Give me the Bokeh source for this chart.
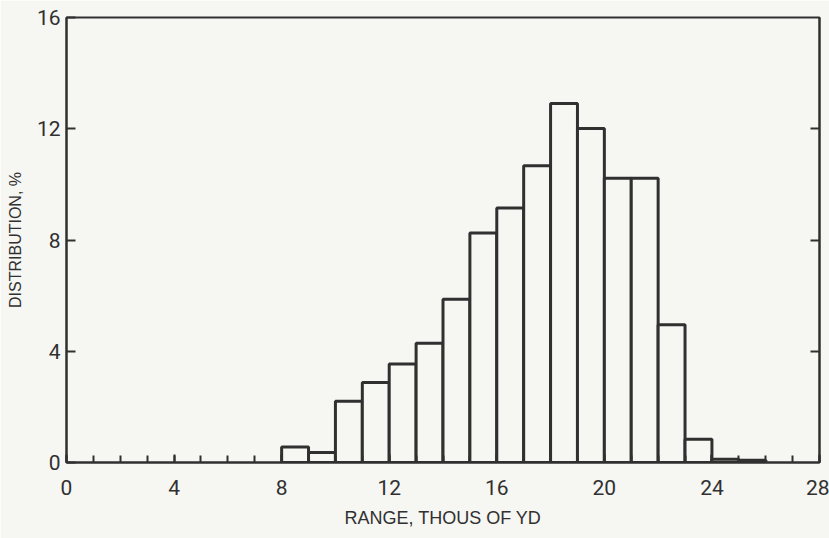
from bokeh.plotting import figure
from bokeh.models import LinearAxis, FixedTicker, Range1d, ColumnDataSource
from bokeh.embed import file_html
from bokeh.resources import INLINE

# histogram bins (thousands of yards) and distribution (%)
bin_left = [8, 9, 10, 11, 12, 13, 14, 15, 16, 17, 18, 19, 20, 21, 22, 23, 24, 25]
bin_right = [9, 10, 11, 12, 13, 14, 15, 16, 17, 18, 19, 20, 21, 22, 23, 24, 25, 26]
distribution = [0.56, 0.36, 2.2, 2.88, 3.54, 4.29, 5.87, 8.25, 9.15, 10.67,
                12.91, 12.01, 10.22, 10.22, 4.95, 0.84, 0.12, 0.08]
x_ticks = [0, 4, 8, 12, 16, 20, 24, 28]
y_ticks = [0, 4, 8, 12, 16]
right_ticks = [4, 8, 12]
x_minor = list(range(0, 29))

INK = "#303030"
PAPER = "#f6f6f3"
FONT = "Roboto"

src = ColumnDataSource(dict(left=bin_left, right=bin_right, top=distribution,
                            bottom=[0] * len(distribution)))

p = figure(width=829, height=538, output_backend="svg", toolbar_location=None,
           x_range=Range1d(0, 28), y_range=Range1d(0, 16),
           min_border_left=66, min_border_right=10, min_border_top=17,
           min_border_bottom=76, x_axis_location=None, y_axis_location=None)
p.background_fill_color = PAPER
p.border_fill_color = PAPER
p.outline_line_color = INK
p.outline_line_width = 2
p.xgrid.visible = False
p.ygrid.visible = False

p.quad(left="left", right="right", top="top", bottom="bottom", source=src,
       fill_color=PAPER, line_color=INK, line_width=3)

xa = LinearAxis(ticker=FixedTicker(ticks=x_ticks, minor_ticks=x_minor),
                axis_label="RANGE, THOUS OF YD")
xa.axis_line_color = INK
xa.axis_line_width = 2
xa.major_tick_in = 8
xa.major_tick_out = 0
xa.minor_tick_in = 7
xa.minor_tick_out = 0
xa.major_tick_line_color = INK
xa.minor_tick_line_color = INK
xa.major_tick_line_width = 2
xa.minor_tick_line_width = 2
xa.major_label_text_font = FONT
xa.major_label_text_font_size = "21px"
xa.major_label_text_color = INK
xa.major_label_standoff = 17
xa.axis_label_text_font = "Liberation Sans"
xa.axis_label_text_font_style = "normal"
xa.axis_label_text_font_size = "18px"
xa.axis_label_text_color = INK
xa.axis_label_standoff = 10
p.add_layout(xa, "below")

ya = LinearAxis(ticker=FixedTicker(ticks=y_ticks, minor_ticks=[]),
                axis_label="DISTRIBUTION, %")
ya.axis_line_color = INK
ya.axis_line_width = 2
ya.major_tick_in = 9
ya.major_tick_out = 0
ya.major_tick_line_color = INK
ya.major_tick_line_width = 2
ya.major_label_text_font = FONT
ya.major_label_text_font_size = "21px"
ya.major_label_text_color = INK
ya.major_label_standoff = 6
ya.axis_label_text_font = "Liberation Sans"
ya.axis_label_text_font_style = "normal"
ya.axis_label_text_font_size = "16px"
ya.axis_label_text_color = INK
ya.axis_label_standoff = 10
p.add_layout(ya, "left")

ra = LinearAxis(ticker=FixedTicker(ticks=right_ticks, minor_ticks=[]))
ra.axis_line_color = INK
ra.axis_line_width = 2
ra.major_tick_in = 9
ra.major_tick_out = 0
ra.major_tick_line_color = INK
ra.major_tick_line_width = 2
ra.major_label_overrides = {t: "" for t in right_ticks}
ra.major_label_standoff = 0
p.add_layout(ra, "right")

open("out.html", "w").write(file_html(p, INLINE))
